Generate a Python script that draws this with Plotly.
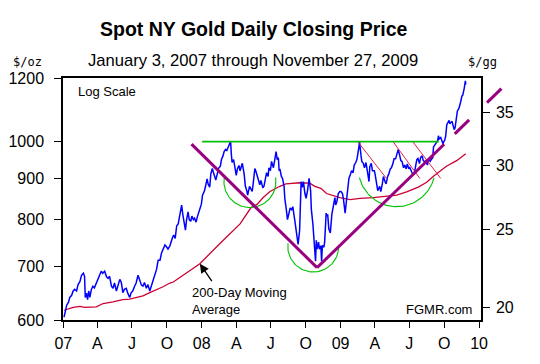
import math
import pandas as pd
import plotly.graph_objects as go

# ---------------- data ----------------
dates_2007 = ["01-03","01-05","01-10","01-15","01-18","01-23","01-27","01-31","02-05","02-09","02-14","02-18","02-23","02-26","02-28",
              "03-03","03-06","03-09","03-12","03-16","03-20","03-24","03-29","04-02","04-07","04-11","04-15","04-20","04-25","04-29",
              "05-03","05-08","05-12","05-16","05-21","05-25","05-30","06-03","06-07","06-11","06-16","06-20","06-25","06-29",
              "07-03","07-08","07-12","07-17","07-21","07-26","07-30","08-03","08-08","08-12","08-17","08-22","08-26","08-30",
              "09-04","09-08","09-13","09-17","09-21","09-26","09-30","10-04","10-09","10-12","10-16","10-19","10-23","10-27","10-31",
              "11-03","11-06","11-09","11-12","11-15","11-19","11-22","11-26","11-29","12-03","12-06","12-10","12-13","12-17","12-20",
              "12-24","12-27","12-31"]
price_2007 = [605,612,626,632,640,644,652,655,652,664,670,682,686,680,640,
              648,636,652,640,655,661,658,667,674,682,690,686,690,679,676,
              680,661,657,667,652,660,674,668,649,655,657,648,640,649,
              652,661,667,682,674,663,661,668,657,664,652,663,669,679,
              694,712,712,727,735,744,740,735,742,752,760,765,758,786,790,
              805,822,834,812,798,776,800,818,800,796,808,800,803,794,805,
              815,824,836]

dates_2008 = ["01-03","01-08","01-11","01-15","01-18","01-22","01-25","01-29","01-31","02-04","02-07","02-11","02-14","02-19","02-22",
              "02-26","02-29","03-04","03-07","03-11","03-14","03-17","03-19","03-21","03-25","03-28","04-01","04-04","04-08","04-11",
              "04-15","04-17","04-22","04-25","04-29","05-01","05-06","05-09","05-13","05-16","05-20","05-23","05-28","06-02","06-05",
              "06-10","06-13","06-17","06-20","06-24","06-26","06-30","07-03","07-08","07-11","07-15","07-18","07-21","07-23","07-25",
              "07-29","08-01","08-05","08-07","08-11","08-14","08-18","08-21","08-25","08-28","09-02","09-05","09-09","09-11","09-15",
              "09-16","09-17","09-19","09-22","09-25","09-29","10-02","10-06","10-09","10-10","10-14","10-16","10-20","10-22","10-24",
              "10-27","10-29","10-31","11-04","11-06","11-10","11-12","11-14","11-18","11-20","11-24","11-26","11-28","12-01","12-03",
              "12-05","12-09","12-11","12-15","12-17","12-19","12-22","12-26","12-30"]
price_2008 = [858,868,880,899,885,878,912,926,918,904,896,912,926,932,950,
              960,972,978,975,985,991,1001,965,942,950,930,908,925,934,920,
              935,940,910,880,868,858,880,875,867,890,926,918,900,884,895,
              876,880,902,915,905,928,920,945,928,952,972,950,955,920,925,
              905,900,880,850,823,800,815,827,823,830,800,779,760,745,775,
              815,880,892,877,892,862,850,870,886,900,869,823,790,760,727,
              710,754,735,750,735,742,710,743,739,750,815,808,812,779,775,
              770,812,823,835,852,834,841,862,867]

dates_2009 = ["01-02","01-06","01-09","01-13","01-16","01-20","01-23","01-27","01-30","02-03","02-06","02-10","02-13","02-17","02-19",
              "02-20","02-24","02-26","03-02","03-05","03-09","03-13","03-17","03-19","03-23","03-26","03-31","04-02","04-06","04-09",
              "04-14","04-17","04-21","04-24","04-28","05-01","05-05","05-08","05-12","05-15","05-19","05-22","05-26","05-29","06-02",
              "06-05","06-09","06-12","06-16","06-19","06-23","06-26","06-30","07-02","07-07","07-10","07-14","07-17","07-21","07-24",
              "07-28","07-31","08-04","08-07","08-11","08-14","08-18","08-21","08-25","08-28","09-01","09-03","09-08","09-10","09-14",
              "09-16","09-18","09-22","09-24","09-28","09-30","10-02","10-05","10-06","10-08","10-12","10-14","10-16","10-20","10-22",
              "10-26","10-28","10-30","11-03","11-05","11-09","11-11","11-13","11-17","11-19","11-23","11-25","11-26","11-27"]
price_2009 = [867,862,845,815,840,880,900,911,920,915,935,942,950,975,989,
              1000,960,945,940,928,942,920,892,930,940,920,920,911,880,869,
              880,867,886,905,892,886,905,911,925,928,939,952,952,965,978,
              965,947,945,928,935,925,938,925,930,916,911,912,934,950,953,
              939,956,960,947,944,947,935,952,945,950,955,985,994,998,1003,
              1017,1008,1012,1003,994,1000,1003,1015,1040,1050,1058,1063,1053,1058,1060,
              1041,1035,1042,1085,1092,1100,1114,1118,1140,1142,1165,1189,1190,1178]

ma_dates = ["2007-01-03","2007-01-27","2007-02-14","2007-02-27","2007-03-29","2007-04-07","2007-04-16","2007-05-12","2007-06-07",
            "2007-06-25","2007-07-12","2007-07-30","2007-08-17","2007-09-04","2007-09-21","2007-10-09","2007-10-18","2007-11-07",
            "2007-11-25","2007-12-27","2008-02-18","2008-04-11","2008-05-10","2008-05-25","2008-06-11","2008-06-29","2008-07-25",
            "2008-08-10","2008-09-15","2008-10-12","2008-10-25","2008-11-10","2008-11-25","2008-12-13","2008-12-30","2009-01-26",
            "2009-02-21","2009-03-28","2009-04-24","2009-05-29","2009-06-24","2009-07-25","2009-08-16","2009-09-02","2009-10-07",
            "2009-11-03","2009-11-27"]
ma_values = [617,622,624,622,623,626,629,632,636,
             637,640,643,649,654,660,667,669,679,
             688,705,747,790,828,835,852,867,880,
             886,889,888,880,875,862,857,852,847,
             850,852,854,858,866,878,890,905,932,
             947,966]

left_ticks = [600, 700, 800, 900, 1000, 1200]
right_ticks = [20, 25, 30, 35]
x_tick_dates = ["2007-01-01","2007-04-01","2007-07-01","2007-10-01","2008-01-01","2008-04-01","2008-07-01",
                "2008-10-01","2009-01-01","2009-04-01","2009-07-01","2009-10-01","2010-01-01"]
x_tick_labels = ["07","A","J","O","08","A","J","O","09","A","J","O","10"]
GRAMS_PER_OZ = 31.1035

# annotation geometry (chart markup, in data terms)
resistance_price = 1000
resistance_span = ("2008-01-02", "2009-09-17")
v_dates = ["2007-12-05", "2008-10-31", "2009-10-01"]
v_prices = [993, 697, 992.6]
v_ext_spans = [("2009-10-29", "2009-12-06"), ("2010-01-22", "2010-03-01")]
down_starts = ["2009-02-16", "2009-05-20", "2009-07-11"]
down_ends = ["2009-05-02", "2009-07-29", "2009-09-22"]
down_top, down_bottom = 999, 900
arc_dates = ["2008-05-07", "2008-10-21", "2009-05-29"]
arc_prices = [892, 740.6, 926.8]
arc_radius_px = [26, 25.5, 38.5]
arc_angles = [(170.7, 369.3), (172.8, 356.0), (194.4, 345.6)]

# ---------------- layout geometry ----------------
OFF = 8                      # page body margin of the exported html
W, H = 540 - OFF, 364 - OFF
ML, MR, MT, MB = 63 - OFF, 59, 78 - OFF, 44
PW, PH = W - ML - MR, H - MT - MB
X0 = pd.Timestamp("2006-12-31 05:00")
X1 = X0 + pd.Timedelta(days=1102)
YLO, YHI = math.log10(600), math.log10(1200)
span_days = (X1 - X0) / pd.Timedelta(days=1)
px_per_day = PW / span_days
px_per_dec = PH / (YHI - YLO)

def xpaper(d):
    return ((pd.Timestamp(d) - X0) / pd.Timedelta(days=1)) / span_days

def ypaper(p):
    return (math.log10(p) - YLO) / (YHI - YLO)

def py(page_y):   # page pixel y -> paper
    return (OFF + MT + PH - page_y) / PH

def pxx(page_x):  # page pixel x -> paper
    return (page_x - OFF - ML) / PW

def build(year, ds):
    return [f"{year}-{d}" for d in ds]

dates = build(2007, dates_2007) + build(2008, dates_2008) + build(2009, dates_2009)
prices = price_2007 + price_2008 + price_2009

FONT = "Liberation Sans, Arial, sans-serif"
fig = go.Figure()

fig.add_trace(go.Scatter(x=dates, y=[p / GRAMS_PER_OZ for p in prices], yaxis="y2", mode="lines",
                         line=dict(width=0, color="rgba(0,0,0,0)"), hoverinfo="skip", showlegend=False))
fig.add_trace(go.Scatter(x=ma_dates, y=ma_values, mode="lines", line=dict(color="#CC0033", width=1.3),
                         showlegend=False, name="200-Day MA"))
fig.add_trace(go.Scatter(x=dates, y=prices, mode="lines", line=dict(color="#0000FF", width=1.5),
                         showlegend=False, name="Gold"))

# green arcs
for cd, cp, r, (a0, a1) in zip(arc_dates, arc_prices, arc_radius_px, arc_angles):
    n = 60
    xs, ys = [], []
    for i in range(n + 1):
        a = math.radians(a0 + (a1 - a0) * i / n)
        dx = r * math.cos(a) / px_per_day
        dy = r * math.sin(a) / px_per_dec
        xs.append(pd.Timestamp(cd) + pd.Timedelta(days=dx))
        ys.append(cp * 10 ** dy)
    fig.add_trace(go.Scatter(x=xs, y=ys, mode="lines", line=dict(color="#00C000", width=1.1),
                             hoverinfo="skip", showlegend=False))

shapes = []
shapes.append(dict(type="line", xref="x", yref="y", x0=resistance_span[0], x1=resistance_span[1],
                   y0=resistance_price, y1=resistance_price, line=dict(color="#00C000", width=1.6)))
for s, e in zip(down_starts, down_ends):
    shapes.append(dict(type="line", xref="x", yref="y", x0=s, x1=e, y0=down_top, y1=down_bottom,
                       line=dict(color="#E0204A", width=1)))
VCOL = "#99007F"
for i in range(2):
    shapes.append(dict(type="line", xref="x", yref="y", x0=v_dates[i], x1=v_dates[i + 1],
                       y0=v_prices[i], y1=v_prices[i + 1], line=dict(color=VCOL, width=3)))
d1 = (pd.Timestamp(v_dates[1]) - X0) / pd.Timedelta(days=1)
d2 = (pd.Timestamp(v_dates[2]) - X0) / pd.Timedelta(days=1)
slope = (math.log10(v_prices[2]) - math.log10(v_prices[1])) / (d2 - d1)
def arm(d):
    dd = (pd.Timestamp(d) - X0) / pd.Timedelta(days=1)
    return 10 ** (math.log10(v_prices[2]) + slope * (dd - d2))
for s, e in v_ext_spans:
    shapes.append(dict(type="line", xref="paper", yref="paper", x0=xpaper(s), x1=xpaper(e),
                       y0=ypaper(arm(s)), y1=ypaper(arm(e)), line=dict(color=VCOL, width=3)))

annotations = [
    dict(text="<b>Spot NY Gold Daily Closing Price</b>", x=pxx(254), y=py(29), xref="paper", yref="paper",
         showarrow=False, font=dict(family=FONT, size=19.5, color="black"), xanchor="center", yanchor="middle"),
    dict(text="January 3, 2007 through November 27, 2009", x=pxx(253), y=py(61), xref="paper", yref="paper",
         showarrow=False, font=dict(family=FONT, size=16.6, color="black"), xanchor="center", yanchor="middle"),
    dict(text="$/oz", x=pxx(27), y=py(62), xref="paper", yref="paper", showarrow=False,
         font=dict(family="DejaVu Sans Mono, monospace", size=12, color="black"), xanchor="center", yanchor="middle"),
    dict(text="$/gg", x=pxx(482), y=py(62), xref="paper", yref="paper", showarrow=False,
         font=dict(family="DejaVu Sans Mono, monospace", size=12, color="black"), xanchor="center", yanchor="middle"),
    dict(text="Log Scale", x=pxx(76), y=py(91), xref="paper", yref="paper", showarrow=False,
         font=dict(family=FONT, size=13, color="black"), xanchor="left", yanchor="middle"),
    dict(text="FGMR.com", x=pxx(474), y=py(309), xref="paper", yref="paper", showarrow=False,
         font=dict(family=FONT, size=13, color="black"), xanchor="right", yanchor="middle"),
    dict(text="200-Day Moving<br>Average", x=pxx(190), y=py(301), xref="paper", yref="paper", showarrow=False,
         align="left", font=dict(family=FONT, size=13, color="black"), xanchor="left", yanchor="middle"),
    dict(text="", x="2007-12-27", y=math.log10(705), xref="x", yref="y", showarrow=True, arrowhead=2,
         arrowsize=1.4, arrowwidth=1.3, arrowcolor="black", ax=13, ay=19, standoff=0),
]

axis_common = dict(showgrid=False, zeroline=False, showline=True, linecolor="black", linewidth=1.5,
                   ticks="outside", tickcolor="black", tickwidth=1.2, automargin=False,
                   tickfont=dict(family=FONT, size=16, color="black"))

fig.update_layout(
    width=W, height=H, margin=dict(l=ML, r=MR, t=MT, b=MB, autoexpand=False),
    paper_bgcolor="white", plot_bgcolor="white", showlegend=False,
    xaxis=dict(type="date", range=[X0, X1], tickmode="array", tickvals=x_tick_dates, ticktext=x_tick_labels,
               ticklen=6, mirror=True, ticklabelstandoff=2, **axis_common),
    yaxis=dict(type="log", range=[YLO, YHI], tickmode="array", tickvals=left_ticks,
               ticktext=[str(v) for v in left_ticks], ticklen=7, mirror=True, ticklabelstandoff=7,
               **axis_common),
    yaxis2=dict(type="log", overlaying="y", side="right", anchor="x",
                range=[math.log10(600 / GRAMS_PER_OZ), math.log10(1200 / GRAMS_PER_OZ)],
                tickmode="array", tickvals=right_ticks, ticktext=[str(v) for v in right_ticks], ticklen=7,
                ticklabelstandoff=3, **axis_common),
    shapes=shapes, annotations=annotations,
)

fig.write_html("out.html")
